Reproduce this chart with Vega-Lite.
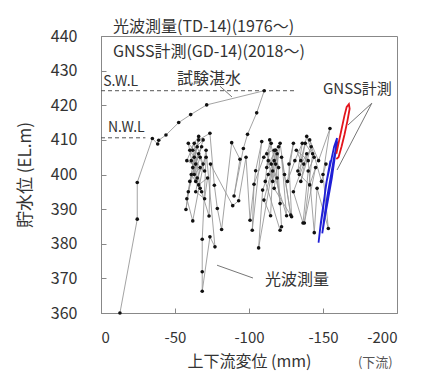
{
  "$schema": "https://vega.github.io/schema/vega-lite/v6.json",
  "width": 296,
  "height": 277,
  "autosize": "none",
  "padding": {"left": 101, "top": 36, "right": 28, "bottom": 61},
  "background": "white",
  "config": {
    "font": "Noto Sans CJK JP",
    "view": {"stroke": "#888", "strokeWidth": 1},
    "axis": {"grid": false, "domainColor": "#888", "tickColor": "#888", "labelColor": "#333", "titleColor": "#333", "titleFontWeight": "normal", "labelFontSize": 16, "titleFontSize": 17, "tickSize": -5, "labelFont": "Noto Sans CJK JP", "titleFont": "Noto Sans CJK JP"}
  },
  "datasets": {
    "td": [
      {"i":1,"x":-12.8,"y":360},{"i":2,"x":-24.5,"y":387.1},{"i":3,"x":-24.5,"y":397.7},{"i":4,"x":-34.7,"y":410.4},{"i":5,"x":-38.3,"y":408.8},{"i":6,"x":-39,"y":409.9},{"i":7,"x":-43.9,"y":411.4},{"i":8,"x":-52.5,"y":415},{"i":9,"x":-60.6,"y":417.3},{"i":10,"x":-71.4,"y":420.1},{"i":11,"x":-110.3,"y":424.2},{"i":12,"x":-105.2,"y":417.8},{"i":13,"x":-99,"y":411.6},{"i":14,"x":-96.2,"y":407.5},{"i":15,"x":-89.9,"y":393.8},{"i":16,"x":-93.9,"y":404.4},{"i":17,"x":-88.3,"y":409.2},{"i":18,"x":-81.5,"y":384.1},{"i":19,"x":-78.6,"y":390.2},{"i":20,"x":-76.6,"y":396.9},
      {"i":21,"x":-73.6,"y":411.9},{"i":22,"x":-66,"y":410},{"i":23,"x":-62,"y":402},{"i":24,"x":-68,"y":408},{"i":25,"x":-60,"y":398},{"i":26,"x":-66,"y":406},{"i":27,"x":-70,"y":401},{"i":28,"x":-58,"y":404},{"i":29,"x":-63,"y":409},{"i":30,"x":-67,"y":396},{"i":31,"x":-61,"y":400},{"i":32,"x":-57.4,"y":389.9},{"i":33,"x":-59,"y":395},{"i":34,"x":-64,"y":403},{"i":35,"x":-69,"y":410},{"i":36,"x":-62,"y":407},{"i":37,"x":-65,"y":399},{"i":38,"x":-71,"y":405},{"i":39,"x":-68.4,"y":381.3},{"i":40,"x":-68.4,"y":371.9},
      {"i":41,"x":-68.4,"y":366.3},{"i":42,"x":-73.6,"y":382},{"i":43,"x":-77,"y":379.1},{"i":44,"x":-71,"y":407},{"i":45,"x":-62,"y":386.6},{"i":46,"x":-58,"y":393},{"i":47,"x":-63,"y":405},{"i":48,"x":-66,"y":411},{"i":49,"x":-60,"y":407},{"i":50,"x":-67,"y":402},{"i":51,"x":-64,"y":395},{"i":52,"x":-70,"y":393},{"i":53,"x":-72,"y":399},{"i":54,"x":-66,"y":397},{"i":55,"x":-61,"y":404},{"i":56,"x":-65,"y":408},{"i":57,"x":-69,"y":403},{"i":58,"x":-63,"y":400},{"i":59,"x":-67,"y":405},{"i":60,"x":-59,"y":409},
      {"i":61,"x":-64,"y":398},{"i":62,"x":-68,"y":395},{"i":63,"x":-73,"y":388},{"i":64,"x":-74,"y":403},{"i":65,"x":-89,"y":391},{"i":66,"x":-93,"y":392.4},{"i":67,"x":-98,"y":405},{"i":68,"x":-100.7,"y":386.8},{"i":69,"x":-104.5,"y":401.1},{"i":70,"x":-108.6,"y":409.5},{"i":71,"x":-102.2,"y":383.9},{"i":72,"x":-103.4,"y":397.2},{"i":73,"x":-110,"y":405},{"i":74,"x":-115,"y":409},{"i":75,"x":-112,"y":402},{"i":76,"x":-118,"y":407},{"i":77,"x":-106.5,"y":378.8},{"i":78,"x":-109.2,"y":395.5},{"i":79,"x":-113,"y":400},{"i":80,"x":-117,"y":404},
      {"i":81,"x":-110.1,"y":392.6},{"i":82,"x":-114.6,"y":388.1},{"i":83,"x":-116,"y":401},{"i":84,"x":-120,"y":408},{"i":85,"x":-112,"y":406},{"i":86,"x":-119,"y":399},{"i":87,"x":-121,"y":391.6},{"i":88,"x":-118,"y":403},{"i":89,"x":-114,"y":410},{"i":90,"x":-111,"y":398},{"i":91,"x":-121,"y":383.9},{"i":92,"x":-122,"y":384.9},{"i":93,"x":-119,"y":406},{"i":94,"x":-116,"y":398},{"i":95,"x":-113,"y":404},{"i":96,"x":-120,"y":402},{"i":97,"x":-117,"y":407},{"i":98,"x":-115,"y":403},{"i":99,"x":-125.4,"y":388.1},{"i":100,"x":-122,"y":405},
      {"i":101,"x":-128.2,"y":388.3},{"i":102,"x":-124,"y":400},{"i":103,"x":-121,"y":409},{"i":104,"x":-117,"y":396},{"i":105,"x":-128.8,"y":387.8},{"i":106,"x":-127,"y":403},{"i":107,"x":-130,"y":409},{"i":108,"x":-126,"y":398},{"i":109,"x":-131,"y":404},{"i":110,"x":-136,"y":409},{"i":111,"x":-133,"y":401},{"i":112,"x":-139,"y":406},{"i":113,"x":-135,"y":398},{"i":114,"x":-142,"y":408},{"i":115,"x":-137,"y":403},{"i":116,"x":-130,"y":395},{"i":117,"x":-136.5,"y":386},{"i":118,"x":-140,"y":401},{"i":119,"x":-144,"y":405},{"i":120,"x":-138,"y":409},
      {"i":121,"x":-134,"y":400},{"i":122,"x":-141,"y":397},{"i":123,"x":-145,"y":402},{"i":124,"x":-137.4,"y":386},{"i":125,"x":-143,"y":406},{"i":126,"x":-139,"y":411},{"i":127,"x":-135,"y":404},{"i":128,"x":-132,"y":407},{"i":129,"x":-140,"y":404},{"i":130,"x":-144.1,"y":383.2},{"i":131,"x":-146,"y":396},{"i":132,"x":-153.6,"y":384.4},{"i":133,"x":-150,"y":400},{"i":134,"x":-154.7,"y":413.3},{"i":135,"x":-147,"y":404},{"i":136,"x":-141,"y":410},{"i":137,"x":-149,"y":398},{"i":138,"x":-152,"y":403}
    ],
    "gnss": [
      {"s":"blue","i":1,"x":-155,"y":404},{"s":"blue","i":2,"x":-152,"y":397},{"s":"blue","i":3,"x":-150,"y":390},{"s":"blue","i":4,"x":-148,"y":384},{"s":"blue","i":5,"x":-147,"y":380.3},{"s":"blue","i":6,"x":-148.5,"y":386},{"s":"blue","i":7,"x":-150.5,"y":392},{"s":"blue","i":8,"x":-152.5,"y":398},{"s":"blue","i":9,"x":-155,"y":403},{"s":"blue","i":10,"x":-157.5,"y":408},{"s":"blue","i":11,"x":-159.5,"y":410.5},{"s":"blue","i":12,"x":-158,"y":405},{"s":"blue","i":13,"x":-156,"y":399},{"s":"blue","i":14,"x":-153.5,"y":393},{"s":"blue","i":15,"x":-151,"y":387},{"s":"blue","i":16,"x":-149.5,"y":383},{"s":"blue","i":17,"x":-151,"y":388},{"s":"blue","i":18,"x":-153,"y":394},{"s":"blue","i":19,"x":-155.5,"y":400},{"s":"blue","i":20,"x":-157.5,"y":405},{"s":"blue","i":21,"x":-159,"y":408},{"s":"blue","i":22,"x":-156.5,"y":402},{"s":"blue","i":23,"x":-154.5,"y":396},{"s":"blue","i":24,"x":-156,"y":401},{"s":"blue","i":25,"x":-158.5,"y":407},{"s":"blue","i":26,"x":-160,"y":409.5},{"s":"blue","i":27,"x":-157,"y":403},
      {"s":"red","i":1,"x":-159,"y":406},{"s":"red","i":2,"x":-160.5,"y":409},{"s":"red","i":3,"x":-162.5,"y":413},{"s":"red","i":4,"x":-164.5,"y":417},{"s":"red","i":5,"x":-166,"y":419.5},{"s":"red","i":6,"x":-167.5,"y":420.3},{"s":"red","i":7,"x":-168,"y":419},{"s":"red","i":8,"x":-166.5,"y":415.5},{"s":"red","i":9,"x":-164.5,"y":411.5},{"s":"red","i":10,"x":-162.5,"y":408},{"s":"red","i":11,"x":-160.5,"y":405},{"s":"red","i":12,"x":-159,"y":404.5}
    ],
    "dash": [
      {"g":"SWL","x":0,"y":424.2},{"g":"SWL","x":-131,"y":424.2},{"g":"NWL","x":0,"y":410.6},{"g":"NWL","x":-30,"y":410.6}
    ],
    "lead": [
      {"g":"a","x":-80.4,"y":425.5},{"g":"a","x":-88.5,"y":422.4},
      {"g":"b","x":-78.4,"y":373.8},{"g":"b","x":-102.7,"y":370.1},
      {"g":"c","x":-183,"y":420.6},{"g":"c","x":-166.9,"y":414.3},
      {"g":"d","x":-183,"y":420.6},{"g":"d","x":-159.5,"y":401.3}
    ],
    "lab16": [
      {"t":"光波測量(TD-14)(1976～)","x":-8.1,"y":442.6},
      {"t":"GNSS計測(GD-14)(2018～)","x":-8.1,"y":435.4},
      {"t":"試験湛水","x":-51.4,"y":427.6},
      {"t":"光波測量","x":-110.8,"y":369.5}
    ],
    "lab15": [{"t":"GNSS計測","x":-150,"y":424.7}],
    "lab14": [{"t":"S.W.L","x":-1.5,"y":426.7},{"t":"N.W.L","x":-4.7,"y":413.3}],
    "lab13": [{"t":"(下流)","x":-173.6,"y":345.5}]
  },
  "encoding": {
    "x": {"field":"x","type":"quantitative","scale":{"domain":[-200,0],"reverse":true,"nice":false,"zero":false},
      "axis":{"values":[0,-50,-100,-150,-200],"labelExpr":"datum.value == 0 ? '0' : '-' + abs(datum.value)","title":"上下流変位 (mm)","labelFontSize":15,"titleFontSize":16,"labelPadding":22,"titlePadding":8}},
    "y": {"field":"y","type":"quantitative","scale":{"domain":[360,440],"nice":false,"zero":false},
      "axis":{"values":[360,370,380,390,400,410,420,430,440],"title":"貯水位 (EL.m)","labelPadding":29,"titlePadding":16}}
  },
  "layer": [
    {"data":{"name":"dash"},"mark":{"type":"line","color":"#555","strokeWidth":1,"strokeDash":[4,3]},"encoding":{"detail":{"field":"g"}}},
    {"data":{"name":"lead"},"mark":{"type":"line","color":"#777","strokeWidth":1},"encoding":{"detail":{"field":"g"}}},
    {"data":{"name":"td"},"mark":{"type":"line","color":"#999","strokeWidth":0.9},"encoding":{"order":{"field":"i","type":"quantitative"}}},
    {"data":{"name":"td"},"mark":{"type":"circle","color":"#111","size":13,"opacity":1}},
    {"data":{"name":"gnss"},"mark":{"type":"line","strokeWidth":1.8},"encoding":{"order":{"field":"i","type":"quantitative"},"color":{"field":"s","type":"nominal","scale":{"domain":["blue","red"],"range":["#1f1fd6","#e3141c"]},"legend":null}}},
    {"data":{"name":"lab16"},"mark":{"type":"text","align":"left","baseline":"middle","fontSize":16,"color":"#333"},"encoding":{"text":{"field":"t"}}},
    {"data":{"name":"lab15"},"mark":{"type":"text","align":"left","baseline":"middle","fontSize":15,"color":"#333"},"encoding":{"text":{"field":"t"}}},
    {"data":{"name":"lab14"},"mark":{"type":"text","align":"left","baseline":"middle","fontSize":14,"color":"#333"},"encoding":{"text":{"field":"t"}}},
    {"data":{"name":"lab13"},"mark":{"type":"text","align":"left","baseline":"middle","fontSize":13,"color":"#555"},"encoding":{"text":{"field":"t"}}}
  ]
}
